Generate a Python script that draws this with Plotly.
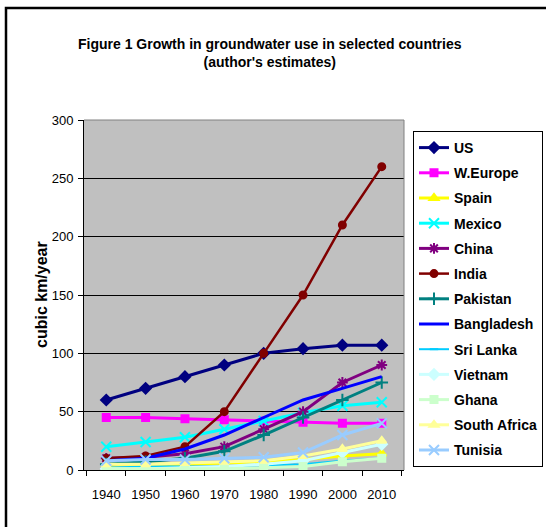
import plotly.graph_objects as go

years = ["1940", "1950", "1960", "1970", "1980", "1990", "2000", "2010"]

us = [60, 70, 80, 90, 100, 104, 107, 107]
w_europe = [45, 45, 44, 43, 42, 41, 40, 40]
spain = [4, 5, 5, 6, 7, 9, 12, 14]
mexico = [20, 24, 28, 35, 42, 49, 55, 58]
china = [10, 11, 14, 20, 35, 50, 75, 90]
india = [10, 12, 20, 50, 100, 150, 210, 260]
pakistan = [5, 7, 10, 16, 30, 45, 60, 75]
bangladesh = [8, 10, 18, 30, 45, 60, 70, 80]
sri_lanka = [2, 3, 3, 3, 4, 5, 8, 10]
vietnam = [1, 1, 2, 3, 5, 8, 15, 22]
ghana = [1, 1, 1, 1, 2, 3, 7, 10]
south_africa = [5, 5, 6, 7, 8, 12, 18, 25]
tunisia = [8, 9, 9, 10, 11, 15, 30, 40]

series = [
    ("US", us, "#000080", "diamond", 8, 3),
    ("W.Europe", w_europe, "#FF00FF", "square", 7, 3),
    ("Spain", spain, "#FFFF00", "triangle-up", 8, 3),
    ("Mexico", mexico, "#00FFFF", "x-thin", 10, 3),
    ("China", china, "#800080", "asterisk", 9, 3),
    ("India", india, "#800000", "circle", 7, 2.5),
    ("Pakistan", pakistan, "#008080", "cross-thin", 9, 3),
    ("Bangladesh", bangladesh, "#0000FF", None, 0, 3),
    ("Sri Lanka", sri_lanka, "#00CCFF", "line-ew", 6, 2),
    ("Vietnam", vietnam, "#CCFFFF", "diamond", 8, 3),
    ("Ghana", ghana, "#CCFFCC", "square", 7, 3),
    ("South Africa", south_africa, "#FFFF99", "triangle-up", 8, 3),
    ("Tunisia", tunisia, "#99CCFF", "x-thin", 10, 3),
]

FONT = "Arial, Liberation Sans, sans-serif"

fig = go.Figure()
for i, (name, vals, color, sym, size, lw) in enumerate(series):
    if sym is None:
        mode = "lines"
        marker = None
    else:
        mode = "lines+markers"
        marker = dict(symbol=sym, size=size, color=color,
                      line=dict(color=color, width=2))
    fig.add_trace(go.Scatter(
        x=years, y=vals, name=name, mode=mode, marker=marker,
        line=dict(color=color, width=lw), legendgroup=f"g{i}",
    ))

W, H = 546, 527
# plot area in page pixels: x 84-404, y 120-470
L, R, T, B = 84, 404, 120, 470

def px_x(px):
    return (px - L) / (R - L)

def px_y(py):
    return (B - py) / (B - T)

fig.update_layout(
    template="none",
    width=W, height=H,
    margin=dict(l=L, r=W - R, t=T, b=H - B, autoexpand=False),
    paper_bgcolor="white",
    plot_bgcolor="#C0C0C0",
    font=dict(family=FONT, size=13, color="black"),
    showlegend=True,
    hovermode=False,
    legend=dict(
        xref="container", yref="container",
        x=413 / W, y=1 - 131 / H, xanchor="left", yanchor="top",
        maxheight=1.0,
        bgcolor="white", bordercolor="black", borderwidth=1,
        font=dict(family=FONT, size=14, color="black", weight="bold"),
        traceorder="grouped", tracegroupgap=4, itemwidth=30,
    ),
    xaxis=dict(
        type="category", showgrid=False, ticks="outside", tickson="boundaries",
        ticklen=5, tickcolor="black", linecolor="black", linewidth=1,
        showline=True, ticklabelstandoff=12, automargin=False,
        tickfont=dict(family=FONT, size=13, color="black"),
    ),
    yaxis=dict(
        range=[0, 300], tickvals=[0, 50, 100, 150, 200, 250, 300],
        showgrid=True, gridcolor="black", gridwidth=1,
        ticks="outside", ticklen=5, tickcolor="black", ticklabelstandoff=2,
        showline=True, linecolor="black", linewidth=1, zeroline=False,
        automargin=False,
        tickfont=dict(family=FONT, size=13, color="black"),
    ),
    annotations=[
        dict(text="<b>Figure 1 Growth in groundwater use in selected countries<br>(author's estimates)</b>",
             xref="paper", yref="paper", x=px_x(270), y=px_y(34),
             xanchor="center", yanchor="top", showarrow=False,
             font=dict(family=FONT, size=14, color="black")),
        dict(text="<b>cubic km/year</b>", textangle=-90,
             xref="paper", yref="paper", x=px_x(41), y=px_y(295),
             xanchor="center", yanchor="middle", showarrow=False,
             font=dict(family=FONT, size=16, color="black")),
    ],
    shapes=[
        dict(type="line", xref="paper", yref="paper", x0=0, x1=1, y0=1, y1=1,
             line=dict(color="#808080", width=1)),
        dict(type="line", xref="paper", yref="paper", x0=1, x1=1, y0=0, y1=1,
             line=dict(color="#808080", width=1)),
        dict(type="rect", xref="paper", yref="paper",
             x0=px_x(6), x1=px_x(570), y0=px_y(570), y1=px_y(8),
             line=dict(color="black", width=2.5), fillcolor="rgba(0,0,0,0)",
             layer="above"),
    ],
)

fig.write_html("out.html", config={"displayModeBar": False},
               post_script="document.body.style.margin='0px';")
